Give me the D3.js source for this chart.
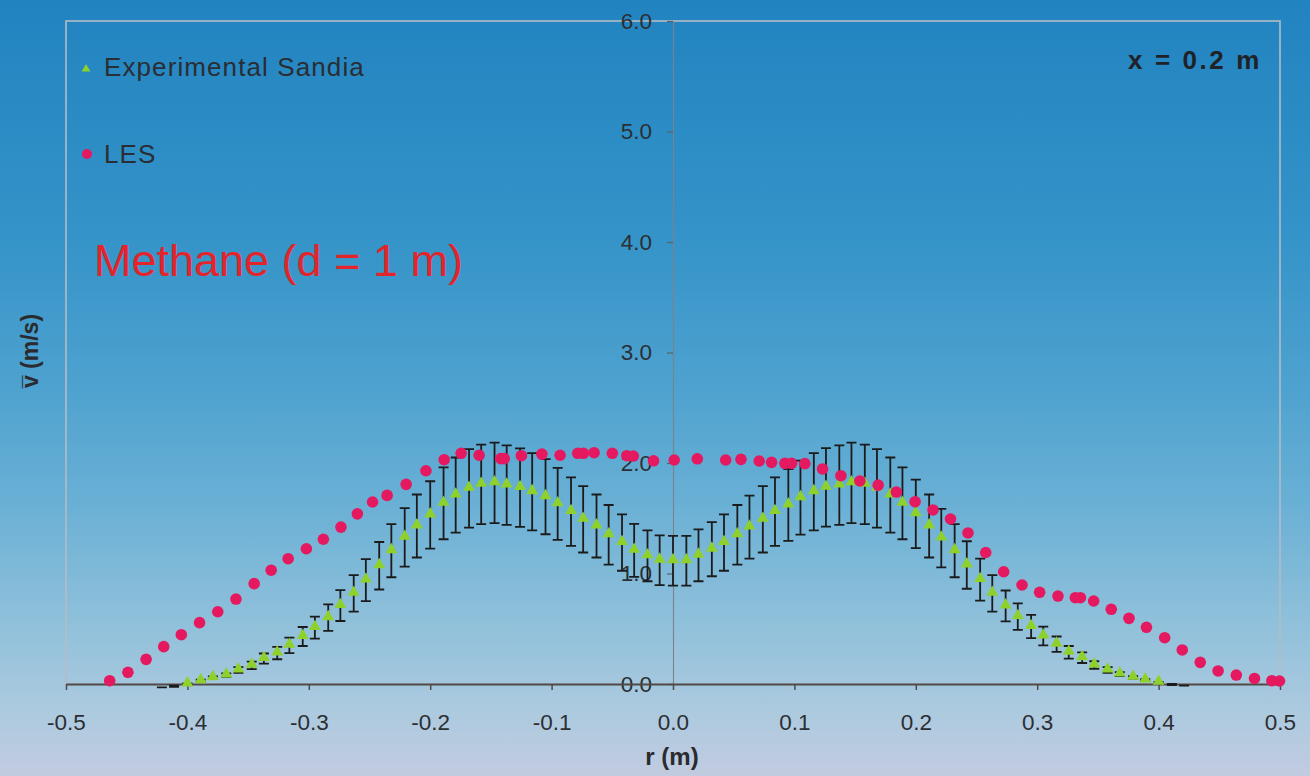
<!DOCTYPE html>
<html>
<head>
<meta charset="utf-8">
<script src="https://cdn.jsdelivr.net/npm/d3@7"></script>
<style>
html,body{margin:0;padding:0;background:#fff;}
svg{display:block;}
text{font-family:"Liberation Sans",Arial,sans-serif;}
</style>
</head>
<body>
<svg id="chart" width="1310" height="776"></svg>
<script>
// ---------------- data ----------------
const xTicks = [-0.5,-0.4,-0.3,-0.2,-0.1,0,0.1,0.2,0.3,0.4,0.5];
const xTickLabels = ["-0.5","-0.4","-0.3","-0.2","-0.1","0.0","0.1","0.2","0.3","0.4","0.5"];
const yTicks = [0,1,2,3,4,5,6];
const yTickLabels = ["0.0","1.0","2.0","3.0","4.0","5.0","6.0"];

// Experimental Sandia (triangles) with error bars
const expR = [-0.400,-0.389,-0.379,-0.368,-0.358,-0.347,-0.337,-0.326,-0.316,-0.305,-0.295,-0.284,-0.274,-0.263,-0.253,-0.242,-0.232,-0.221,-0.211,-0.200,-0.189,-0.179,-0.168,-0.158,-0.147,-0.137,-0.126,-0.116,-0.105,-0.095,-0.084,-0.074,-0.063,-0.053,-0.042,-0.032,-0.021,-0.011,0.000,
  0.011,0.021,0.032,0.042,0.053,0.063,0.074,0.084,0.095,0.105,0.116,0.126,0.137,0.147,0.158,0.168,0.179,0.189,0.200,0.211,0.221,0.232,0.242,0.253,0.263,0.274,0.284,0.295,0.305,0.316,0.326,0.337,0.347,0.358,0.368,0.379,0.389,0.400];
const expV = [0.00,0.03,0.057,0.08,0.127,0.169,0.23,0.28,0.35,0.43,0.51,0.60,0.71,0.82,0.94,1.07,1.206,1.327,1.43,1.53,1.635,1.71,1.77,1.807,1.82,1.80,1.777,1.74,1.695,1.63,1.56,1.49,1.43,1.35,1.28,1.21,1.16,1.12,1.116,
  1.116,1.165,1.22,1.28,1.35,1.42,1.49,1.56,1.62,1.686,1.74,1.78,1.80,1.82,1.807,1.77,1.71,1.635,1.54,1.43,1.32,1.206,1.077,0.945,0.82,0.706,0.61,0.52,0.434,0.36,0.287,0.238,0.172,0.127,0.09,0.06,0.036,0.015];
const expErr = [0.005,0.01,0.012,0.016,0.025,0.034,0.046,0.056,0.07,0.086,0.10,0.12,0.14,0.165,0.19,0.215,0.24,0.265,0.285,0.305,0.325,0.34,0.355,0.36,0.365,0.36,0.355,0.35,0.34,0.325,0.31,0.30,0.285,0.27,0.255,0.24,0.23,0.225,0.225,
  0.225,0.235,0.245,0.255,0.27,0.285,0.30,0.31,0.325,0.335,0.35,0.355,0.36,0.365,0.36,0.355,0.34,0.325,0.31,0.285,0.265,0.24,0.215,0.19,0.165,0.14,0.12,0.105,0.085,0.07,0.057,0.048,0.034,0.025,0.018,0.012,0.007,0.003];
// experimental points beyond the edges, visible only as error-bar caps
const expTailR = [-0.421,-0.411,0.411,0.421];
const expTailV = [-0.03,-0.02,-0.005,-0.015];
const expTailErr = [0.0,0.006,0.006,0.0];

// LES (circles)
const lesR = [-0.464,-0.449,-0.434,-0.4195,-0.405,-0.39,-0.375,-0.36,-0.345,-0.331,-0.317,-0.302,-0.288,-0.2735,-0.26,-0.2475,-0.2355,-0.2198,-0.2035,-0.1885,-0.1745,-0.1597,-0.1418,-0.139,-0.1249,-0.108,-0.093,-0.0785,-0.0738,-0.065,-0.05,-0.038,-0.0327,-0.016,
  0.001,0.020,0.0434,0.056,0.071,0.0812,0.0922,0.0977,0.1086,0.1232,0.1383,0.1539,0.169,0.184,0.1994,0.2142,0.2286,0.243,0.2576,0.2724,0.2875,0.302,0.3171,0.3314,0.3356,0.3465,0.361,0.3756,0.390,0.405,0.4195,0.4343,0.449,0.464,0.479,0.4933,0.4996];
const lesV = [0.03,0.106,0.223,0.338,0.446,0.555,0.654,0.769,0.908,1.03,1.134,1.224,1.31,1.42,1.54,1.647,1.707,1.807,1.93,2.03,2.088,2.07,2.04,2.04,2.066,2.08,2.07,2.088,2.088,2.093,2.088,2.066,2.063,2.02,
  2.027,2.038,2.027,2.033,2.018,2.006,1.997,1.997,1.994,1.946,1.885,1.837,1.80,1.737,1.65,1.575,1.493,1.367,1.19,1.016,0.896,0.83,0.796,0.781,0.781,0.751,0.676,0.594,0.513,0.419,0.308,0.196,0.118,0.081,0.05,0.03,0.027];

const legendLabels = ["Experimental Sandia","LES"];
const annotation = "Methane (d = 1 m)";
const stationLabel = "x = 0.2 m";
const xTitle = "r (m)";
const yTitle = "v\u0305 (m/s)";

// ---------------- drawing ----------------
const svg = d3.select("#chart");
const W = 1310, H = 776;

const defs = svg.append("defs");
const grad = defs.append("linearGradient").attr("id","bg").attr("x1",0).attr("y1",0).attr("x2",0).attr("y2",1);
[["0%","#2183c0"],["30%","#3493c8"],["50%","#4ea2cf"],["65%","#6ab0d5"],["80%","#8fc0da"],["92%","#adcadf"],["100%","#c2cbe0"]]
  .forEach(([o,c])=>grad.append("stop").attr("offset",o).attr("stop-color",c));
svg.append("rect").attr("width",W).attr("height",H).attr("fill","url(#bg)");

const x = d3.scaleLinear().domain([-0.5,0.5]).range([66,1280]);
const y = d3.scaleLinear().domain([0,6]).range([684,21]);

// frame
svg.append("rect")
  .attr("x",x(-0.5)).attr("y",y(6))
  .attr("width",x(0.5)-x(-0.5)).attr("height",y(0)-y(6))
  .attr("fill","none").attr("stroke","#b3bcc6").attr("stroke-width",1.6);

// y axis at r = 0
const yAxis = d3.axisLeft(y).tickValues(yTicks).tickFormat((d,i)=>yTickLabels[i])
  .tickSize(6).tickSizeOuter(0).tickPadding(15);
const gy = svg.append("g").attr("transform",`translate(${x(0)},0)`).call(yAxis);
gy.select(".domain").attr("stroke","#7a838c").attr("stroke-width",1.1);
gy.selectAll(".tick line").attr("stroke","#5a6068").attr("stroke-width",1.2);
gy.selectAll(".tick text").attr("fill","#2b2f33").style("font-size","22.5px")
  .style("font-family","'Liberation Sans',Arial,sans-serif");

// x axis
const xAxis = d3.axisBottom(x).tickValues(xTicks).tickFormat((d,i)=>xTickLabels[i])
  .tickSize(6).tickSizeOuter(0).tickPadding(24);
const gx = svg.append("g").attr("transform",`translate(0,${y(0)})`).call(xAxis);
gx.select(".domain").attr("stroke","#4d4a48").attr("stroke-width",2);
gx.selectAll(".tick line").attr("stroke","#4d4a48").attr("stroke-width",1.5);
gx.selectAll(".tick text").attr("fill","#2b2f33").style("font-size","22.5px")
  .style("font-family","'Liberation Sans',Arial,sans-serif");

// error bars
const expData = expR.map((r,i)=>({r, v:expV[i], e:expErr[i]}));
const tailData = expTailR.map((r,i)=>({r, v:expTailV[i], e:expTailErr[i]}));
const capW = 5;
const eb = svg.append("g").attr("stroke","#1b1b1b").attr("stroke-width",1.8).attr("fill","none");
const allBars = expData.concat(tailData);
eb.selectAll("path").data(allBars).join("path")
  .attr("d", d => {
    const cx = x(d.r), y1 = y(d.v + d.e), y2 = y(d.v - d.e);
    return `M${cx},${y1}V${y2}M${cx-capW},${y1}H${cx+capW}M${cx-capW},${y2}H${cx+capW}`;
  });

// triangles
const tri = d3.symbol().type(d3.symbolTriangle).size(62);
svg.append("g").selectAll("path").data(expData).join("path")
  .attr("d", tri)
  .attr("transform", d => `translate(${x(d.r)},${y(d.v)-1})`)
  .attr("fill","#8fd12c");

// LES circles
const lesData = lesR.map((r,i)=>({r, v:lesV[i]}));
svg.append("g").selectAll("circle").data(lesData).join("circle")
  .attr("cx", d => x(d.r)).attr("cy", d => y(d.v)).attr("r", 5.8)
  .attr("fill","#e5195f");

// legend
const lg = svg.append("g");
lg.append("path").attr("d", d3.symbol().type(d3.symbolTriangle).size(34)())
  .attr("transform","translate(86,69)").attr("fill","#8fd12c");
lg.append("circle").attr("cx",87).attr("cy",154).attr("r",5).attr("fill","#e5195f");
lg.selectAll("text").data(legendLabels).join("text")
  .attr("x",104).attr("y",(d,i)=> i===0 ? 76 : 163)
  .attr("fill","#2a2d33").style("font-size","26px").style("letter-spacing","1.1px")
  .text(d=>d);

// annotation
svg.append("text").attr("x",94).attr("y",276)
  .attr("fill","#e3242b").style("font-size","45px")
  .text(annotation);

svg.append("text").attr("x",1128).attr("y",69)
  .attr("fill","#1f2226").style("font-size","26px").style("font-weight","bold").style("letter-spacing","2.6px")
  .text(stationLabel);

// axis titles
svg.append("text").attr("x",672).attr("y",765).attr("text-anchor","middle")
  .attr("fill","#2a2b2e").style("font-size","24px").style("font-weight","bold")
  .text(xTitle);
svg.append("text").attr("transform","translate(38,351) rotate(-90)").attr("text-anchor","middle")
  .attr("fill","#2a2b2e").style("font-size","23px").style("font-weight","bold")
  .text(yTitle);
</script>
</body>
</html>
